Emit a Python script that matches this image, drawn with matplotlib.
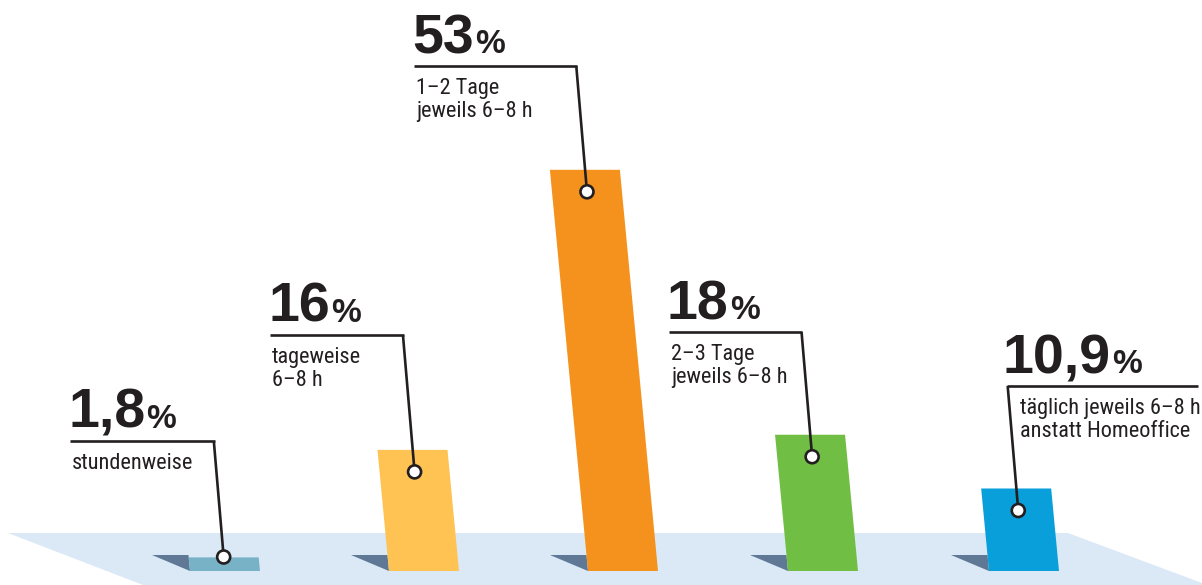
import matplotlib
matplotlib.use("Agg")
import matplotlib.pyplot as plt
from matplotlib import font_manager
from matplotlib.patches import Polygon, Circle

# data
values = [1.8, 16, 53, 18, 10.9]
value_text = ["1,8", "16", "53", "18", "10,9"]
labels = ["stundenweise", "tageweise\n6–8 h", "1–2 Tage\njeweils 6–8 h",
          "2–3 Tage\njeweils 6–8 h", "täglich jeweils 6–8 h\nanstatt Homeoffice"]
colors = ["#78b2c7", "#fec352", "#f5921e", "#70bf44", "#089fda"]


def pick_font(names):
    for n in names:
        try:
            font_manager.findfont(n, fallback_to_default=False)
            return n
        except ValueError:
            pass
    return "DejaVu Sans"


num_font = pick_font(["Liberation Sans", "Roboto"])
lab_font = pick_font(["Liberation Sans Narrow", "Roboto Condensed", "Roboto"])

W, H = 1202, 585
fig = plt.figure(figsize=(W / 100, H / 100), dpi=100)
ax = fig.add_axes([0, 0, 1, 1])
ax.set_xlim(0, W)
ax.set_ylim(H, 0)
ax.axis("off")

ink = "#231f20"

# floor
floor = Polygon([(8, 533), (1068, 533), (1202, 583), (1202, 585), (143, 585)],
                closed=True, fc="#dbe9f6", ec="none", zorder=0)
ax.add_patch(floor)

base_y = 571
px_per_pct = 7.57
bar_w = 70
shear = 0.095
x0 = [190, 389, 588, 788, 989]

# callout layout (pixel positions)
hline_y = [441, 335, 66, 332, 386]
text_x = [68, 268, 412, 667, 1003]

renderer = fig.canvas.get_renderer()

for i, v in enumerate(values):
    h = v * px_per_pct
    top = base_y - h
    dx = shear * h
    bl = x0[i]
    # shadow
    ax.add_patch(Polygon([(bl - 38, base_y - 16), (bl - shear * 16, base_y - 16), (bl, base_y)],
                         closed=True, fc="#5e7895", ec="none", zorder=1))
    # bar
    ax.add_patch(Polygon([(bl, base_y), (bl + bar_w, base_y),
                          (bl + bar_w - dx, top), (bl - dx, top)],
                         closed=True, fc=colors[i], ec="none", zorder=2))
    # circle on bar
    cy = base_y - max(h - 22, 14)
    cx = bl + bar_w / 2 - shear * (base_y - cy)
    ex = cx - 0.085 * (cy - hline_y[i])
    ax.plot([ex, cx], [hline_y[i], cy], color=ink, lw=1.9, zorder=3,
            solid_capstyle="butt")
    if i < 4:
        ax.plot([text_x[i] + 2, ex + 0.9], [hline_y[i], hline_y[i]], color=ink, lw=1.9,
                zorder=3, solid_capstyle="butt")
        lx = text_x[i] + 4
    else:
        ax.plot([ex - 0.9, 1198], [hline_y[i], hline_y[i]], color=ink, lw=1.9,
                zorder=3, solid_capstyle="butt")
        lx = ex + 12
    ax.add_patch(Circle((cx, cy), 6.5, fc="white", ec=ink, lw=1.9, zorder=4))

    # big number + percent sign
    t = ax.text(text_x[i], hline_y[i] - 13, value_text[i], fontsize=40,
                fontweight="bold", family=num_font, color=ink, ha="left",
                va="baseline", zorder=5)
    bb = t.get_window_extent(renderer)
    xr = ax.transData.inverted().transform((bb.x1, bb.y0))[0]
    ax.text(xr + 1, hline_y[i] - 13, "%", fontsize=24, fontweight="bold",
            family=num_font, color=ink, ha="left", va="baseline", zorder=5)

    # label
    ax.text(lx, hline_y[i] + 12, labels[i], fontsize=16, family=lab_font,
            color=ink, ha="left", va="top", linespacing=1.1, zorder=5)

fig.savefig("out.png", dpi=100)
